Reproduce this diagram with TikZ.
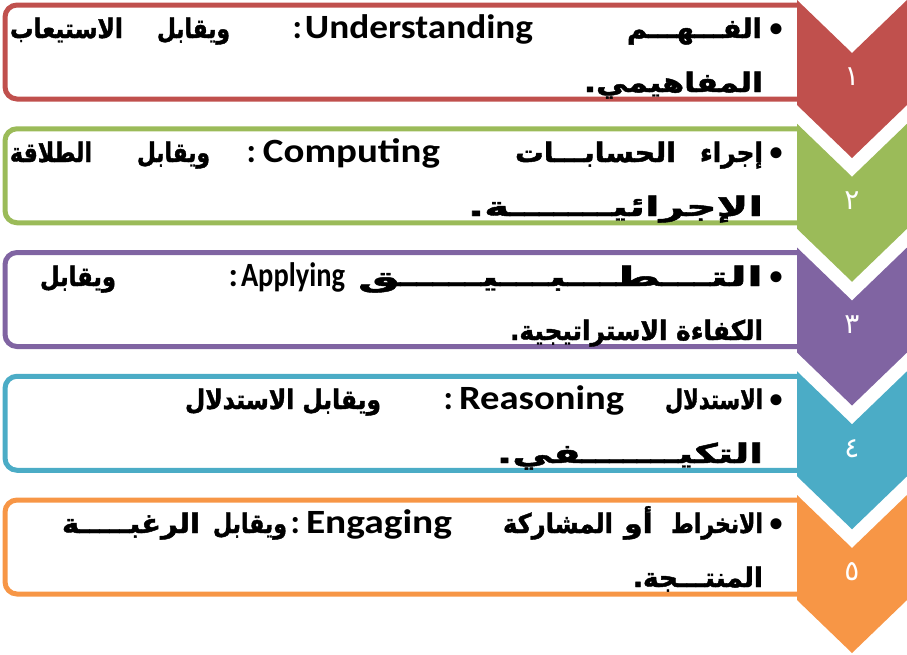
\documentclass[tikz,border=0pt]{standalone}
\usepackage{fontspec}
\usepackage{graphicx}
\TeXXeTstate=1
\newfontfamily\arabicfont[Script=Arabic]{DejaVu Sans}
\newfontfamily\arabicbold[Script=Arabic, FakeBold=1.6]{DejaVu Sans Bold}
\newfontfamily\latinfont{Carlito}
\definecolor{cred}{HTML}{C0504D}
\definecolor{cgreen}{HTML}{9BBB59}
\definecolor{cpurple}{HTML}{8064A2}
\definecolor{cblue}{HTML}{4BACC6}
\definecolor{corange}{HTML}{F79646}
\newcommand\arw[1]{{\arabicbold\fontsize{27}{32}\selectfont\beginR #1\endR}}
\newcommand\enw[1]{{\latinfont\bfseries\fontsize{34}{40}\selectfont #1}}
\newcommand\fitto[2]{\resizebox{#1pt}{\height}{#2}}
\tikzset{
  txt/.style={inner sep=0pt, outer sep=0pt, anchor=base east},
  bul/.style={inner sep=0pt, outer sep=0pt, font=\latinfont\bfseries\fontsize{26}{30}\selectfont, anchor=base},
  digit/.style={inner sep=0pt, text=white, font=\arabicfont\fontsize{28}{32}\selectfont},
  rowbox/.style={line width=5pt, rounded corners=12pt}
}
\begin{document}
\begin{tikzpicture}[x=1pt,y=-1pt]
\useasboundingbox (0,0) rectangle (907,654);
% boxes and chevrons
\foreach \i/\c in {0/cred,1/cgreen,2/cpurple,3/cblue,4/corange}{
  \pgfmathsetmacro\yy{123.75*\i}
  \draw[rowbox, draw=\c] (799,\yy+5) -- (5,\yy+5) -- (5,\yy+99) -- (799,\yy+99);
  \fill[\c] (797,\yy) -- (852,\yy+53) -- (907,\yy) -- (907,\yy+105) -- (852,\yy+158) -- (797,\yy+105) -- cycle;
}
% digits
\node[digit] (d1) at (852,77) {\beginR ١\endR};
\node[digit] (d2) at (852,201) {\beginR ٢\endR};
\node[digit] (d3) at (852,325) {\beginR ٣\endR};
\node[digit] (d4) at (852,449) {\beginR ٤\endR};
\node[digit] (d5) at (852,572) {\beginR ٥\endR};
% bullets
\node[bul] (b1) at (776,36) {•};
\node[bul] (b2) at (776,160) {•};
\node[bul] (b3) at (776,284) {•};
\node[bul] (b4) at (776,407) {•};
\node[bul] (b5) at (776,531) {•};
% row 1
\node[txt] (r1a) at (123,38) {\fitto{113}{\arw{الاستيعاب}}};
\node[txt] (r1b) at (230,38) {\fitto{73}{\arw{ويقابل}}};
\node[txt] (r1k) at (302,38) {\enw{:}};
\node[txt] (r1c) at (533,38) {\fitto{228}{\enw{Understanding}}};
\node[txt] (r1d) at (762,38) {\fitto{135}{\arw{الفـــهـــم}}};
\node[txt] (r1e) at (763,92) {\fitto{179}{\arw{المفاهيمي.}}};
% row 2
\node[txt] (r2a) at (92,162) {\fitto{82}{\arw{الطلاقة}}};
\node[txt] (r2b) at (210,162) {\fitto{73}{\arw{ويقابل}}};
\node[txt] (r2k) at (256,162) {\enw{:}};
\node[txt] (r2c) at (440,162) {\fitto{177}{\enw{Computing}}};
\node[txt] (r2d) at (676,162) {\fitto{161}{\arw{الحسابـــات}}};
\node[txt] (r2e) at (763,162) {\fitto{63}{\arw{إجراء}}};
\node[txt] (r2f) at (763,216) {\fitto{295}{\arw{الإجرائيـــــــة.}}};
% row 3
\node[txt] (r3a) at (116,286) {\fitto{76}{\arw{ويقابل}}};
\node[txt] (r3k) at (238,286) {\enw{:}};
\node[txt] (r3b) at (345,286) {\fitto{104}{\enw{Applying}}};
\node[txt] (r3c) at (763,286) {\fitto{405}{\arw{التـــطـــبـــيـــــق}}};
\node[txt] (r3d) at (763,340) {\fitto{253}{\arw{الكفاءة الاستراتيجية.}}};
% row 4
\node[txt] (r4a) at (381,409) {\fitto{196}{\arw{ويقابل الاستدلال}}};
\node[txt] (r4k) at (453,409) {\enw{:}};
\node[txt] (r4b) at (624,409) {\fitto{165}{\enw{Reasoning}}};
\node[txt] (r4c) at (763,409) {\fitto{98}{\arw{الاستدلال}}};
\node[txt] (r4d) at (763,463) {\fitto{266}{\arw{التكيـــــــفي.}}};
% row 5
\node[txt] (r5a) at (200,533) {\fitto{138}{\arw{الرغبـــــة}}};
\node[txt] (r5b) at (287,533) {\fitto{74}{\arw{ويقابل}}};
\node[txt] (r5k) at (300,533) {\enw{:}};
\node[txt] (r5c) at (452,533) {\fitto{146}{\enw{Engaging}}};
\node[txt] (r5d) at (613,533) {\fitto{110}{\arw{المشاركة}}};
\node[txt] (r5e) at (653,533) {\fitto{29}{\arw{أو}}};
\node[txt] (r5f) at (763,533) {\fitto{92}{\arw{الانخراط}}};
\node[txt] (r5g) at (763,587) {\fitto{130}{\arw{المنتـــجة.}}};
\end{tikzpicture}
\end{document}
